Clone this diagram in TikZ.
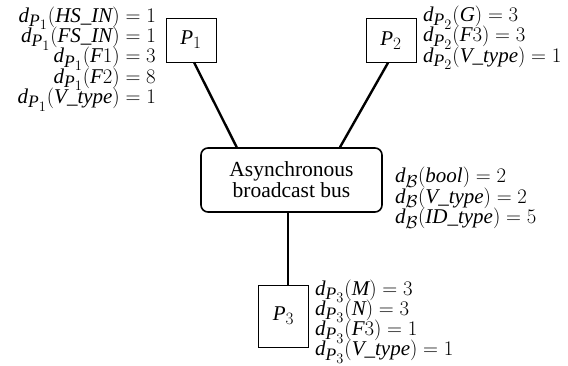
\documentclass[tikz,border=0pt]{standalone}
\usepackage{fontspec}
\setmainfont{Liberation Serif}
\usepackage[italic]{mathastext}
\newcommand\lblfont{\fontsize{21}{20.3}\selectfont\lineskiplimit=-30pt\relax}
\tikzset{
  proc/.style={draw, line width=0.6pt, minimum width=50pt, minimum height=44pt, inner sep=0pt, font=\fontsize{21}{21}\selectfont},
  bus/.style={draw, line width=1.6pt, rounded corners=7pt, minimum width=181pt, minimum height=64pt, align=center, inner sep=0pt, font=\fontsize{21.5}{21}\selectfont},
  link/.style={line width=2.4pt},
  lbl/.style={inner sep=0pt, font=\lblfont}
}
\begin{document}
\begin{tikzpicture}[x=1pt,y=1pt]
\useasboundingbox (0,0) rectangle (568,-365);
\node[proc] (p1) at (191,-40) {$P_1$};
\node[proc] (p2) at (391,-40.5) {$P_2$};
\node[bus] (bus) at (291.5,-180) {Asynchronous\\broadcast bus};
\node[proc, minimum height=62pt] (p3) at (283.5,-316) {$P_3$};
\draw[link] ([xshift=3pt]p1.south) -- ([xshift=-54.8pt]bus.north);
\draw[link] ([xshift=-3pt]p2.south) -- ([xshift=48.5pt]bus.north);
\draw[link] ([xshift=-3.8pt]bus.south) -- ([xshift=4.2pt]p3.north);
\node[lbl, align=right, anchor=east] (l1) at (156,-59) {%
$d_{P_1}(HS\_IN) = 1$\\
$d_{P_1}(FS\_IN) = 1$\\
$d_{P_1}(F1) = 3$\\
$d_{P_1}(F2) = 8$\\
$d_{P_1}(V\_type) = 1$};
\node[lbl, align=left, anchor=west] (l2) at (423,-38) {%
$d_{P_2}(G) = 3$\\
$d_{P_2}(F3) = 3$\\
$d_{P_2}(V\_type) = 1$};
\node[lbl, align=left, anchor=west] (lb) at (395,-198) {%
$d_{\mathcal{B}}(bool) = 2$\\
$d_{\mathcal{B}}(V\_type) = 2$\\
$d_{\mathcal{B}}(ID\_type) = 5$};
\node[lbl, align=left, anchor=west] (l3) at (315,-321.5) {%
$d_{P_3}(M) = 3$\\
$d_{P_3}(N) = 3$\\
$d_{P_3}(F3) = 1$\\
$d_{P_3}(V\_type) = 1$};
\end{tikzpicture}
\end{document}
